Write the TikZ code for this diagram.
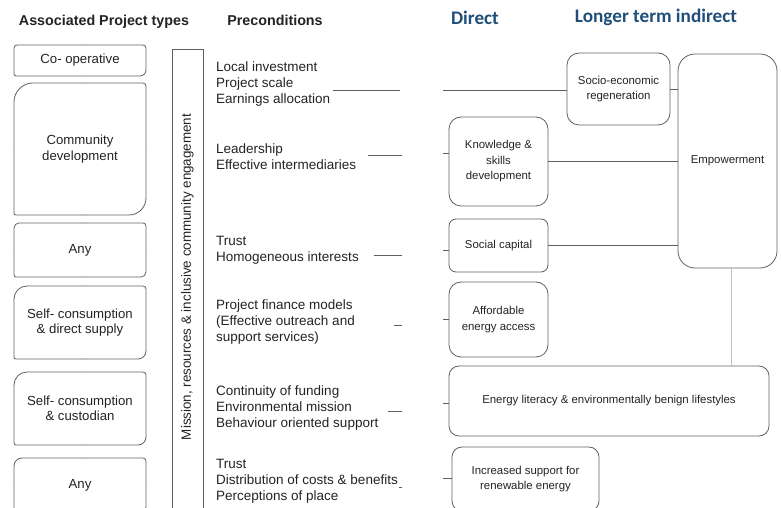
\documentclass[tikz,border=0pt]{standalone}
\usepackage{fontspec}
\setmainfont{Liberation Sans}
\newfontfamily\hdfont{Carlito}
\usepackage{tikz}
\usetikzlibrary{positioning}
\definecolor{hdblue}{RGB}{31,78,121}
\definecolor{edgegray}{RGB}{95,95,95}
\definecolor{txtgray}{RGB}{35,35,35}
\tikzstyle{l} = [draw=edgegray, line width=0.8pt]
\tikzstyle{ll} = [draw=black!25, line width=0.8pt]
\tikzset{
 pt/.style
  = {draw=none, outer sep=0pt, minimum width=132pt, align=center, text=txtgray,
     font=\fontsize{13.2}{15.5}\selectfont},
 pre/.style
  = {anchor=west, inner sep=0pt, align=left, text=txtgray,
     font=\fontsize{13.5}{16}\selectfont},
 d/.style
  = {rectangle, draw=edgegray, line width=0.8pt, rounded corners=10pt, outer sep=0pt,
     align=center, text=txtgray, font=\fontsize{11.4}{15.5}\selectfont},
 h/.style
  = {font=\fontsize{14.3}{16}\selectfont\bfseries, text=txtgray},
 hb/.style
  = {font=\hdfont\fontsize{19.2}{20}\selectfont\bfseries, text=hdblue},
}
% outline with its own radius at each corner (nw, ne, se, sw)
\newcommand{\ptframe}[5]{%
  \draw[l, rounded corners=#2] (#1.west) |- (#1.north);
  \draw[l, rounded corners=#3] (#1.north) -| (#1.east);
  \draw[l, rounded corners=#4] (#1.east) |- (#1.south);
  \draw[l, rounded corners=#5] (#1.south) -| (#1.west);
}

\begin{document}
\begin{tikzpicture}[x=1pt, y=1pt]
    \useasboundingbox (0,0) rectangle (781,508);
    \clip (0,0) rectangle (781,508);

    % headers
    \node [h] (hdtypes) at (104,486) {Associated Project types};
    \node [h] (hdpre) at (275,488) {Preconditions};
    \node [hb] (hddirect) at (475,490) {Direct};
    \node [hb] (hdindirect) at (656,491) {Longer term indirect};

    % project types
    \node [pt, minimum height=31pt] (coop) at (80,447.5) {Co- operative};
    \node [pt, minimum height=132pt, below=7pt of coop] (commdev) {Community\\ development};
    \node [pt, minimum height=54pt, below=8pt of commdev] (any1) {Any};
    \node [pt, minimum height=73pt, below=9pt of any1] (selfdirect) {Self- consumption\\ \& direct supply};
    \node [pt, minimum height=73pt, below=13pt of selfdirect] (selfcust) {Self- consumption\\ \& custodian};
    \node [pt, minimum height=54pt, below=13pt of selfcust] (any2) {Any};
    \ptframe{coop}{3pt}{3pt}{6pt}{2pt}
    \ptframe{commdev}{19pt}{3pt}{17pt}{2pt}
    \ptframe{any1}{5pt}{3pt}{5pt}{2pt}
    \ptframe{selfdirect}{13pt}{3pt}{8pt}{2pt}
    \ptframe{selfcust}{13pt}{3pt}{8pt}{2pt}
    \ptframe{any2}{8pt}{3pt}{5pt}{2pt}

    \node [l, rectangle, outer sep=0pt, minimum width=31pt, minimum height=469pt] (mission) at (187.5,224.5) {};
    \node [rotate=90, text=txtgray, font=\fontsize{13.4}{16}\selectfont] (missiontext) at (187.5,231)
      {Mission, resources \& inclusive community engagement};

    % preconditions
    \node [pre] (pre1) at (216,424) {Local investment\\ Project scale\\ Earnings allocation};
    \node [pre] (pre2) at (216,351) {Leadership\\ Effective intermediaries};
    \node [pre] (pre3) at (216,258) {Trust\\ Homogeneous interests};
    \node [pre] (pre4) at (216,186) {Project finance models\\ (Effective outreach and\\ support services)};
    \node [pre] (pre5) at (216,100) {Continuity of funding\\ Environmental mission\\ Behaviour oriented support};
    \node [pre] (pre6) at (216,27) {Trust\\ Distribution of costs \& benefits\\ Perceptions of place};

    % direct
    \node [d, minimum width=99pt, minimum height=89pt, rounded corners=12pt] (know) at (498.5,346.5) {Knowledge \&\\ skills\\ development};
    \node [d, minimum width=99pt, minimum height=53pt, rounded corners=7pt, below=13pt of know] (social) {Social capital};
    \node [d, minimum width=99pt, minimum height=75pt, rounded corners=12pt, below=10pt of social] (afford) {Affordable\\ energy access};
    \node [d, minimum width=320pt, minimum height=70pt, anchor=north west] (literacy) at ([yshift=-9pt]afford.south west)
      {Energy literacy \& environmentally benign lifestyles};
    \node [d, minimum width=147pt, minimum height=64pt, anchor=north west] (support) at ([xshift=3pt,yshift=-11pt]literacy.south west)
      {Increased support for\\ renewable energy};

    % longer term indirect
    \node [d, minimum width=103pt, minimum height=72pt, rounded corners=12pt] (socio) at (618.5,419) {Socio-economic\\ regeneration};
    \node [d, minimum width=99pt, minimum height=214pt, rounded corners=17pt] (empower) at (727.5,347) {Empowerment};

    % stubs and links
    \coordinate (e1) at (400,418); \coordinate (t1) at (443,418);
    \coordinate (e2) at (402,353); \coordinate (t2) at (443,355);
    \coordinate (e3) at (402,253); \coordinate (t3) at (443,258);
    \coordinate (e4) at (402,183); \coordinate (t4) at (443,189);
    \coordinate (e5) at (402,97);  \coordinate (t5) at (443,105);
    \coordinate (e6) at (402,21);  \coordinate (t6) at (443,30);
    \path [l, shorten <=3pt] (pre1.east |- e1) -- (e1);
    \path [l, shorten <=12pt] (pre2.east |- e2) -- (e2);
    \path [l, shorten <=15pt] (pre3.east |- e3) -- (e3);
    \path [l, shorten <=39pt] (pre4.east |- e4) -- (e4);
    \path [l, shorten <=9pt] (pre5.east |- e5) -- (e5);
    \path [l, shorten <=1pt] (pre6.east |- e6) -- (e6);
    \path [l] (t1) -- (t1 -| socio.west);
    \path [l] (t2) -- (t2 -| know.west);
    \path [l] (t3) -- (t3 -| social.west);
    \path [l] (t4) -- (t4 -| afford.west);
    \path [l] (t5) -- (t5 -| literacy.west);
    \path [l] (t6) -- (t6 -| support.west);
    \path [l] (socio.east) -- (socio.east -| empower.west);
    \path [l] (know.east) -- (know.east -| empower.west);
    \path [l] (social.east) -- (social.east -| empower.west);
    \path [ll] ([xshift=3.5pt]empower.south) -- ([xshift=3.5pt]empower.south |- literacy.north);
  \end{tikzpicture}
\end{document}
